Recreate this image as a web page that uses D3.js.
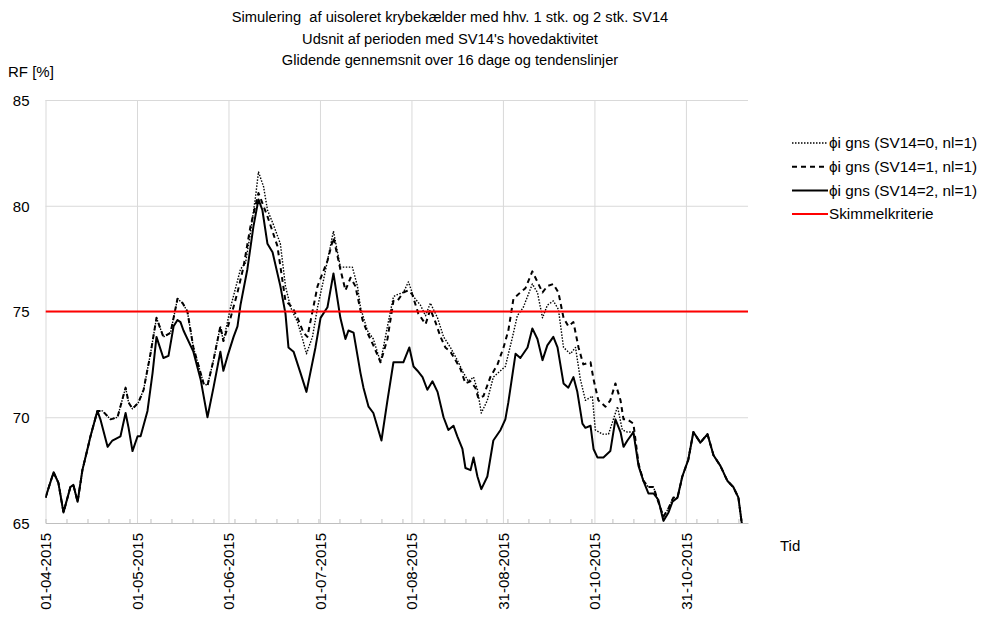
<!DOCTYPE html>
<html>
<head>
<meta charset="utf-8">
<script src="https://cdnjs.cloudflare.com/ajax/libs/d3/7.8.5/d3.min.js"></script>
<style>
	body { margin: 0; background: #fff; }
	svg { display: block; font-family: "Liberation Sans", Arial, sans-serif; }
	.c-rf__title { font-size: 14.7px; fill: #000; white-space: pre; }
	.c-rf__label { font-size: 15px; fill: #000; }
	.c-rf__grid line { stroke: #d9d9d9; stroke-width: 1; }
	.c-rf__grid text { font-size: 15px; fill: #000; }
	.c-rf__grid .domain { display: none; }
	.c-rf__minor line, .c-rf__minor .domain { stroke: #bfbfbf; stroke-width: 1; }
	.c-rf__line { fill: none; stroke: #000; stroke-linejoin: round; }
	.c-rf__line__sv0 { stroke-width: 1.4; stroke-dasharray: 1.5,1.5; }
	.c-rf__line__sv1 { stroke-width: 2; stroke-dasharray: 5,4; }
	.c-rf__line__sv2 { stroke-width: 2; }
	.c-rf__crit { stroke: #ff0000; stroke-width: 2; }
	.c-rf__legend { font-size: 15.3px; fill: #000; }
</style>
</head>
<body>
<svg id="chart" width="981" height="617"></svg>
<script>
//Texts
var titleLines = [
	"Simulering  af uisoleret krybekælder med hhv. 1 stk. og 2 stk. SV14",
	"Udsnit af perioden med SV14's hovedaktivitet",
	"Glidende gennemsnit over 16 dage og tendenslinjer"
];
var seriesNames = ["ϕi gns (SV14=0, nl=1)", "ϕi gns (SV14=1, nl=1)", "ϕi gns (SV14=2, nl=1)", "Skimmelkriterie"];

//Axis: days counted from 01-04-2015
var dayDomain = [0, 234.2];
var tickDays = [0, 30.5, 61, 91.5, 122, 152.5, 183, 213.5];
var tickLabels = ["01-04-2015", "01-05-2015", "01-06-2015", "01-07-2015", "01-08-2015", "31-08-2015", "01-10-2015", "31-10-2015"];
var weekDays = d3.range(0, 234, 7);
var yTicks = [65, 70, 75, 80, 85];
var criterion = 75;

//Series, [day, RF %] — start and end are shared by all three
var sharedStart = [[0,66.2],[2.7,67.4],[4.3,66.9],[6,65.5],[8.3,66.7],[9.3,66.8],[10.7,66.0],[12.3,67.5],[14,68.5],[15,69.1],[17.3,70.3]];
var sharedEnd = [[210.7,66.2],[212.3,67.2],[214.3,68.0],[216,69.3],[218.3,68.8],[220.7,69.2],[222.7,68.2],[225,67.7],[227.3,67.0],[229.3,66.7],[231,66.2],[232.3,64.8],[233,63.5]];

var sv0 = [[19,70.3],[21.7,69.9],[24,70.0],[26.7,71.4],[27.7,70.7],[29,70.4],[31,70.7],[32.7,71.3],[35,73.0],[37,74.7],[39.3,73.8],[41.7,74.0],[44,75.6],[45.7,75.4],[47.3,75.0],[49.3,73.3],[52.7,71.6],[54,71.5],[56,72.7],[58.3,74.3],[59.3,73.6],
	[61.7,75.2],[65,77.0],[66.7,77.3],[68.3,78.7],[70,80.4],[71,81.6],[72.7,80.9],[74,79.8],[76,79.1],[78.3,78.2],[80,76.2],[81.7,75.2],[84,74.5],[85.7,73.7],[87,73.0],[89,73.8],[90.7,75.2],[92.7,76.5],[96,78.8],[98.3,77.1],[100.7,77.1],[102.3,77.1],[104,76.2],[105,75.2],[107.3,74.1],[109.3,73.7],[111.7,72.6],[114,74.3],[116,75.7],[117.3,75.8],[119.3,75.9],[121,76.4],[122.7,75.7],[125,75.3],[126.7,74.8],[128.3,75.4],[130.7,74.7],[132.7,73.8],[135,73.3],[137.3,72.7],[139.3,72.1],[141,71.7],[142.7,71.9],[144,71.3],[145.3,70.2],[147.3,70.8],[149.3,71.9],[151.7,72.2],[153.3,72.4],[155.7,73.8],[157.3,74.8],[159.3,75.2],[162.3,76.3],[164,75.9],[165.7,74.7],[167.3,75.3],[169.3,75.5],[171,75.1],[172.7,73.3],[175,73.0],[176.7,73.3],[178.3,71.8],[180,70.8],[182.3,71.0],[183.3,69.4],[185.7,69.2],[187.7,69.2],[190.7,70.5],[192.3,69.4],[194,69.3],[196,69.3],
	[197.7,67.8],[199.3,67.0],[201,66.7],[202.7,66.7],[204.3,66.0],[206,65.3],[207.7,65.7],[209.3,66.2]];

var sv1 = [[19,70.3],[21.7,69.9],[24,70.0],[26.7,71.4],[27.7,70.7],[29,70.4],[31,70.7],[32.7,71.3],[35,73.0],[37,74.7],[39.3,73.8],[41.7,74.0],[44,75.6],[45.7,75.4],[47.3,75.0],[49.3,73.3],[52.7,71.6],[54,71.5],[56,72.7],[58.3,74.3],[59.3,73.6],
	[61.7,74.7],[64,75.9],[66,77.1],[68.3,79.0],[71,80.6],[74,79.5],[77.3,78.1],[80,75.5],[82.3,75.2],[84,74.7],[86,74.0],[87.3,73.8],[90.7,76.2],[94,77.4],[96,78.5],[98.3,77.0],[100,76.0],[101.7,76.6],[103.3,76.2],[105.7,74.6],[107.3,74.0],[109.3,73.4],[111.7,72.6],[114,73.7],[116,75.5],[117.3,75.5],[119.3,75.9],[121,76.0],[122.3,75.8],[124.3,74.9],[126.7,74.4],[128.3,75.1],[130,74.5],[131.7,73.8],[133.3,73.3],[135,73.1],[136.7,72.7],[138.3,72.3],[140,71.6],[141.7,71.7],[143.3,71.4],[144.3,70.9],[146,71.0],[148.3,71.9],[150.7,72.5],[152.7,73.3],[154.3,74.1],[156,75.6],[158.3,75.9],[160,76.1],[162.3,76.9],[164,76.4],[165.7,75.9],[167.3,76.2],[169.3,76.3],[171,75.9],[172.7,74.7],[174.3,74.3],[176,74.5],[177.7,73.3],[179.3,72.5],[181.7,72.6],[182.7,71.8],[184.3,70.8],[186.7,70.5],[188.3,70.8],[190,71.6],[191.7,70.8],[192.7,69.9],[194,69.9],[196,69.7],
	[197.7,67.8],[199.3,67.0],[201,66.7],[202.7,66.7],[204.3,66.0],[206,65.3],[207.7,65.7],[209.3,66.2]];

var sv2 = [[18.3,69.9],[20.7,68.6],[22.3,68.9],[25,69.1],[26.7,70.2],[27.7,69.5],[29,68.4],[30.7,69.1],[31.7,69.1],[34,70.3],[35.7,72.1],[37,73.8],[39.3,72.8],[41,72.9],[42.7,74.3],[44,74.6],[45,74.5],[46,74.1],[49.3,73.1],[51.7,71.8],[54,70.0],[56,71.4],[58.3,73.1],[59.3,72.2],[60.7,72.9],[62.7,73.8],[64,74.3],[65,75.3],[67.3,77.0],[69.3,79.0],[71,80.3],[72.3,79.8],[74,78.2],[75.7,77.8],[78.3,76.2],[80,74.9],[81,73.3],[82.7,73.1],[85,72.1],[87,71.2],[90,73.3],[91.7,74.7],[94,75.2],[96,76.8],[98.3,74.7],[100,73.7],[101,74.1],[102.7,74.0],[105,72.1],[106,71.4],[107.7,70.5],[109.3,70.2],[112,68.9],[114,70.8],[116,72.6],[117.7,72.6],[119.3,72.6],[121.3,73.3],[122.7,72.4],[124,72.2],[125.7,71.9],[127.3,71.3],[129,71.7],[130.7,71.2],[132.7,70.0],[134.3,69.4],[136,69.6],[137.3,69.1],[139,68.5],[140,67.6],[141.7,67.5],[142.7,68.1],[144,67.2],[145.3,66.6],[147.3,67.2],[149.3,68.9],[151.7,69.4],[153.3,69.9],[154.3,70.7],[156.7,73.0],[158.3,72.8],[160.7,73.3],[162.3,74.2],[164,73.7],[165.7,72.7],[167.3,73.4],[169.3,73.8],[170.7,73.3],[172.7,71.6],[174.3,71.4],[176,71.9],[177.3,71.2],[179,69.7],[180,69.5],[181.7,69.6],[182.7,68.5],[184,68.1],[186,68.1],[188.3,68.4],[190,69.9],[191.7,69.3],[192.7,68.6],[194,68.9],[196,69.3],[197.7,67.7],[199.3,67.0],[201,66.4],[202.7,66.4],[204.3,66.1],[206,65.1],[207.7,65.5],[209,66.0]];

var chart = {
	classPrefix: "c-rf",
	margin: {top: 100, right: 233, bottom: 94, left: 45.5},
	draw: function(){
		var self = this;

		self.svg = d3.select("#chart");
		self.width = +self.svg.attr("width");
		self.height = +self.svg.attr("height");

		var x0 = self.margin.left, x1 = self.width - self.margin.right,
			y0 = self.height - self.margin.bottom, y1 = self.margin.top;

		self.x = d3.scaleLinear().domain(dayDomain).range([x0, x1]);
		self.y = d3.scaleLinear().domain([65, 85]).range([y0, y1]);

		//Title
		self.svg.append("g").selectAll("text")
			.data(titleLines)
			.enter().append("text")
			.attr("class", self.classPrefix + "__title")
			.attr("text-anchor", "middle")
			.attr("x", 450)
			.attr("y", function(d, i){ return 22 + i * 21.5; })
			.text(function(d){ return d; });

		self.svg.append("text")
			.attr("class", self.classPrefix + "__label")
			.attr("x", 8)
			.attr("y", 77)
			.text("RF [%]");

		self.svg.append("text")
			.attr("class", self.classPrefix + "__label")
			.attr("x", 780)
			.attr("y", 551)
			.text("Tid");

		//Horizontal grid + y labels
		self.svg.append("g")
			.attr("class", self.classPrefix + "__grid")
			.attr("transform", "translate(" + x0 + ",0)")
			.call(d3.axisLeft(self.y).tickValues(yTicks).tickSize(-(x1 - x0)).tickPadding(16))
			.selectAll("text").attr("dy", "0.35em");

		//Vertical grid + rotated date labels
		var xAxis = self.svg.append("g")
			.attr("class", self.classPrefix + "__grid")
			.attr("transform", "translate(0," + y0 + ")")
			.call(d3.axisBottom(self.x).tickValues(tickDays).tickSize(-(y0 - y1))
				.tickFormat(function(d, i){ return tickLabels[i]; }));

		xAxis.selectAll("text")
			.attr("transform", "rotate(-90)")
			.attr("text-anchor", "end")
			.attr("x", -10)
			.attr("y", 0)
			.attr("dy", "0.35em");

		//Weekly tick marks + axis line
		self.svg.append("g")
			.attr("class", self.classPrefix + "__minor")
			.attr("transform", "translate(0," + y0 + ")")
			.call(d3.axisBottom(self.x).tickValues(weekDays).tickSize(-4).tickSizeOuter(0).tickFormat(""));

		//Clip lines to the plot area
		self.svg.append("clipPath")
			.attr("id", "plot-clip")
			.append("rect")
			.attr("x", x0).attr("y", y1 - 2)
			.attr("width", x1 - x0).attr("height", y0 - y1 + 2);

		var line = d3.line()
			.x(function(d){ return self.x(d[0]); })
			.y(function(d){ return self.y(d[1]); });

		var series = [
			sharedStart.concat(sv0, sharedEnd),
			sharedStart.concat(sv1, sharedEnd),
			sharedStart.concat(sv2, sharedEnd)
		];

		var plot = self.svg.append("g").attr("clip-path", "url(#plot-clip)");

		plot.selectAll("path")
			.data(series)
			.enter().append("path")
			.attr("class", function(d, i){
				return self.classPrefix + "__line " + self.classPrefix + "__line__sv" + i;
			})
			.attr("d", line);

		//Mould criterion
		plot.append("line")
			.attr("class", self.classPrefix + "__crit")
			.attr("x1", x0).attr("x2", x1)
			.attr("y1", self.y(criterion)).attr("y2", self.y(criterion));

		self.drawLegend();
	},
	drawLegend: function(){
		var self = this, top = 143, step = 23.7;
		var classes = ["__line __line__sv0", "__line __line__sv1", "__line __line__sv2", "__crit"];

		var items = self.svg.append("g").selectAll("g")
			.data(seriesNames)
			.enter().append("g")
			.attr("transform", function(d, i){ return "translate(0," + (top + i * step) + ")"; });

		items.append("line")
			.attr("class", function(d, i){
				return classes[i].split(" ").map(function(c){ return self.classPrefix + c; }).join(" ");
			})
			.attr("x1", 792).attr("x2", 828)
			.attr("y1", 0).attr("y2", 0);

		items.append("text")
			.attr("class", self.classPrefix + "__legend")
			.attr("x", 829)
			.attr("dy", "0.35em")
			.text(function(d){ return d; });
	}
};

chart.draw();
</script>
</body>
</html>
